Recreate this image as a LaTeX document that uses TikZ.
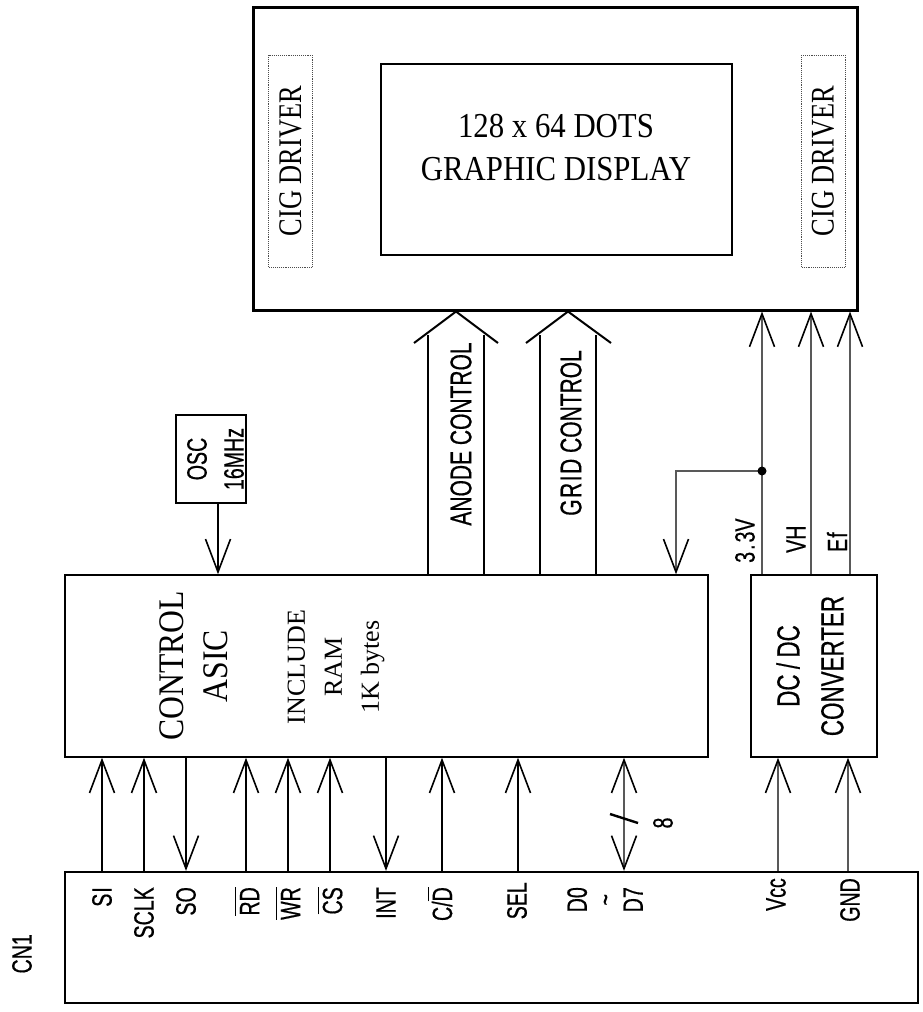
\documentclass[tikz,border=0pt]{standalone}
\usepackage{fontspec}
\setmainfont{Liberation Serif}
\newfontfamily\labfont[FakeStretch=0.7,FakeBold=0.5]{Liberation Sans}
\newfontfamily\serA[FakeStretch=0.88]{Liberation Serif}
\newfontfamily\serB[FakeStretch=0.8]{Liberation Serif}
\usetikzlibrary{arrows.meta}
\newcommand{\ovl}[1]{\vbox{\hrule height 1.6pt\kern 3.5pt\hbox{#1}}}
\begin{document}
\begin{tikzpicture}[x=1pt,y=-1pt,
  blk/.style={draw, rectangle, inner sep=0pt, line width=1.4pt},
  cig/.style={draw=black!70, densely dotted, line width=0.9pt, rectangle, inner sep=0pt},
  barb/.style={-{Straight Barb[length=33pt,width=25pt,line width=1.6pt,color=black]}},
  bbarb/.style={{Straight Barb[length=33pt,width=25pt,line width=1.6pt,color=black]}-{Straight Barb[length=33pt,width=25pt,line width=1.6pt,color=black]}},
  sig/.style={line width=1.6pt},
  pwr/.style={line width=2.4pt, draw=black!65},
  lab/.style={rotate=90, inner sep=0pt, font=\labfont\fontsize{28}{28}\selectfont},
]
\useasboundingbox (0,0) rectangle (923,1012);

% ---- display module
\node[draw, line width=3pt, rectangle, inner sep=0pt, minimum width=604pt, minimum height=303pt] (disp) at (555,158.5) {};
\node[blk, minimum width=351pt, minimum height=191pt] (scr) at (556.5,159.5) {};
\node[align=center, inner sep=0pt, font=\serA\fontsize{35}{43}\selectfont] (scrtext) at (556,148) {128 x 64 DOTS\\GRAPHIC DISPLAY};
\node[cig, rotate=90, minimum width=212pt, minimum height=44pt, font=\serB\fontsize{33}{33}\selectfont] (cigL) at (290.5,161) {CIG DRIVER};
\node[cig, rotate=90, minimum width=212pt, minimum height=44pt, font=\serB\fontsize{33}{33}\selectfont] (cigR) at (823,161) {CIG DRIVER};

% ---- OSC
\node[blk, minimum width=70pt, minimum height=88pt] (osc) at (211,459) {};
\node[lab, align=center, font=\labfont\fontsize{28}{37}\selectfont] (osctext) at (215.5,459) {OSC\\16MHz};

% ---- ASIC
\node[blk, minimum width=643pt, minimum height=182pt] (asic) at (386.5,666) {};
\node[rotate=90, align=center, inner sep=0pt, font=\serA\fontsize{36}{44}\selectfont] (asictext) at (194,666) {CONTROL\\ASIC};
\node[rotate=90, align=center, inner sep=0pt, font=\fontsize{26}{37}\selectfont] (ramtext) at (336,667) {INCLUDE\\RAM\\1K bytes};

% ---- DC/DC
\node[blk, minimum width=126pt, minimum height=182pt] (dcdc) at (814,666) {};
\node[lab, align=center, font=\labfont\fontsize{32}{44}\selectfont] (dctext) at (810,666) {DC\,/\,DC\\CONVERTER};

% ---- CN1
\node[draw, line width=2.2pt, rectangle, inner sep=0pt, minimum width=853pt, minimum height=131pt] (cn) at (491.5,937.5) {};
\node[lab, anchor=east] (cnlab) at (22,934) {CN1};

% ---- OSC to ASIC
\draw[sig, barb] (osc.south -| 218,0) -- (asic.north -| 218,0);

% ---- wide arrows
\draw[line width=2pt] (asic.north -| 428,0) -- (428,335);
\draw[line width=2pt] (asic.north -| 484,0) -- (484,335);
\draw[line width=2pt] (414,343) -- (disp.south -| 456,0) -- (498,343);
\node[lab, font=\labfont\fontsize{30}{30}\selectfont] (anode) at (461,434) {ANODE CONTROL};
\draw[line width=2pt] (asic.north -| 540,0) -- (540,335);
\draw[line width=2pt] (asic.north -| 596,0) -- (596,335);
\draw[line width=2pt] (526,343) -- (disp.south -| 568,0) -- (611,343);
\node[lab, font=\labfont\fontsize{30}{30}\selectfont] (grid) at (571,433) {G\kern1.5pt R\kern1.5pt I\kern1.5pt D CONTROL};

% ---- power to display
\coordinate (j) at (762,471);
\draw[pwr, barb] (dcdc.north -| 762,0) -- (disp.south -| 762,0);
\draw[pwr, barb] (dcdc.north -| 811,0) -- (disp.south -| 811,0);
\draw[pwr, barb] (dcdc.north -| 850,0) -- (disp.south -| 850,0);
\draw[pwr, barb] (j) -| (asic.north -| 676,0);
\fill (j) circle (4.5pt);
\node[lab, anchor=west] (v33) at (745,563) {3\kern2pt.\kern2pt3V};
\node[lab, anchor=west] (vh) at (796,553) {VH};
\node[lab, anchor=west] (ef) at (837,552) {E\kern1pt f};

% ---- connector signals
\draw[sig, barb] (cn.north -| 102,0) -- (asic.south -| 102,0);
\draw[sig, barb] (cn.north -| 144,0) -- (asic.south -| 144,0);
\draw[sig, barb] (asic.south -| 186,0) -- (cn.north -| 186,0);
\draw[sig, barb] (cn.north -| 246,0) -- (asic.south -| 246,0);
\draw[sig, barb] (cn.north -| 288,0) -- (asic.south -| 288,0);
\draw[sig, barb] (cn.north -| 330,0) -- (asic.south -| 330,0);
\draw[sig, barb] (asic.south -| 386,0) -- (cn.north -| 386,0);
\draw[sig, barb] (cn.north -| 442,0) -- (asic.south -| 442,0);
\draw[sig, barb] (cn.north -| 518,0) -- (asic.south -| 518,0);
\draw[pwr, bbarb] (cn.north -| 624,0) -- (asic.south -| 624,0);
\draw[line width=2.4pt] (610,814) -- (638,823);
\node[lab] (eight) at (663,823) {8};
\draw[pwr, barb] (cn.north -| 778,0) -- (dcdc.south -| 778,0);
\draw[pwr, barb] (cn.north -| 848,0) -- (dcdc.south -| 848,0);

\node[lab, anchor=east] (lsi) at (102,887) {S\kern1pt I};
\node[lab, anchor=east] (lsclk) at (144,887) {SCLK};
\node[lab, anchor=east] (lso) at (186,887) {SO};
\node[lab, anchor=east] (lrd) at (247,887) {\ovl{RD}};
\node[lab, anchor=east] (lwr) at (288,887) {\ovl{WR}};
\node[lab, anchor=east] (lcs) at (330,887) {\ovl{CS}};
\node[lab, anchor=east] (lint) at (386,887) {INT};
\node[lab, anchor=east] (lcd) at (440,887) {C/\ovl{D}};
\node[lab, anchor=east] (lsel) at (517,882) {SEL};
\node[lab, anchor=east, align=center] (ld) at (605,887) {D0\\\textasciitilde\\D7};
\node[lab, anchor=east] (lvcc) at (776,878) {Vcc};
\node[lab, anchor=east] (lgnd) at (850,878) {GND};
\end{tikzpicture}
\end{document}
